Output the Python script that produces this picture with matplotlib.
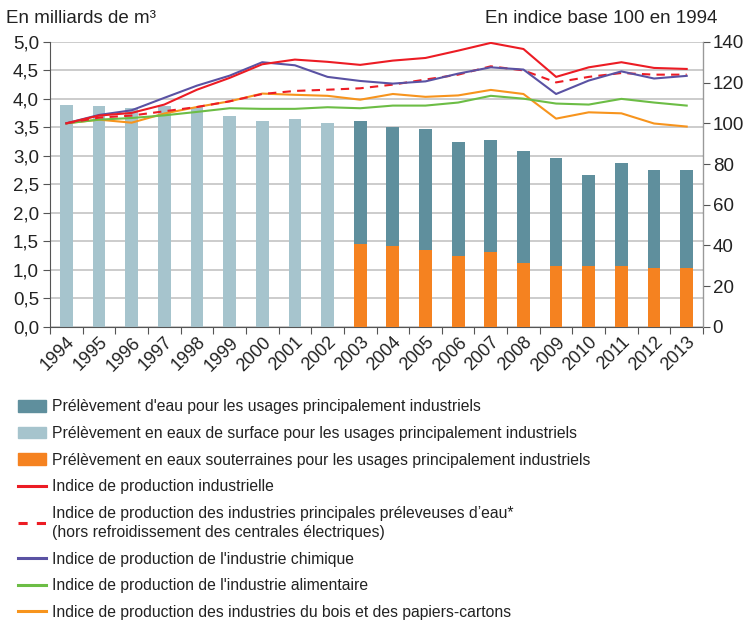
import matplotlib
matplotlib.use("Agg")
import matplotlib.pyplot as plt
from matplotlib.lines import Line2D
from matplotlib.patches import Patch
from matplotlib.ticker import FuncFormatter, MultipleLocator
from matplotlib.transforms import ScaledTranslation

plt.rcParams['font.family'] = ['Liberation Sans', 'DejaVu Sans']

years = list(range(1994, 2014))

# total withdrawal, light bars 1994-2002, dark bars 2003-2013 (milliards de m3)
surface_total = [3.89, 3.88, 3.84, 3.87, 3.85, 3.70, 3.62, 3.64, 3.57]
total = [3.62, 3.50, 3.47, 3.25, 3.27, 3.08, 2.96, 2.66, 2.88, 2.76, 2.76]
ground = [1.45, 1.42, 1.35, 1.25, 1.31, 1.12, 1.06, 1.06, 1.06, 1.03, 1.03]

# production indices, base 100 in 1994
ind_prod = [100, 103.8, 105.1, 109.2, 116.5, 122.3, 129.0, 131.3, 130.2, 128.7,
            130.8, 132.1, 135.7, 139.5, 136.5, 122.8, 127.5, 130.0, 127.2, 126.7]
ind_water = [100, 102.8, 103.8, 105.9, 108.0, 110.8, 114.4, 115.9, 116.5, 117.2,
             119.0, 121.5, 123.9, 128.0, 126.0, 120.1, 122.8, 124.7, 123.9, 123.9]
ind_chem = [100, 104.1, 106.4, 112.5, 118.5, 123.4, 130.0, 128.5, 122.8, 120.8,
            119.5, 120.6, 124.4, 127.5, 126.4, 114.4, 121.0, 125.5, 122.0, 123.3]
ind_food = [100, 101.8, 102.6, 103.9, 105.6, 107.4, 107.1, 107.1, 107.9, 107.4,
            108.7, 108.7, 110.2, 113.5, 112.1, 109.7, 109.2, 112.0, 110.2, 108.7]
ind_wood = [100, 101.8, 100.3, 104.8, 108.0, 110.8, 114.6, 114.0, 113.5, 111.6,
            114.4, 113.0, 113.7, 116.4, 114.4, 102.3, 105.4, 104.9, 99.9, 98.4]

labels = [
    "Prélèvement d'eau pour les usages principalement industriels",
    "Prélèvement en eaux de surface pour les usages principalement industriels",
    "Prélèvement en eaux souterraines pour les usages principalement industriels",
    "Indice de production industrielle",
    "Indice de production des industries principales préleveuses d\u2019eau*\n"
    "(hors refroidissement des centrales électriques)",
    "Indice de production de l'industrie chimique",
    "Indice de production de l'industrie alimentaire",
    "Indice de production des industries du bois et des papiers-cartons",
]

c_dark = '#5f8f9d'
c_light = '#a6c4cd'
c_ground = '#f58220'
c_red = '#ec1c24'
c_blue = '#5a52a3'
c_green = '#6cbd45'
c_orange = '#f7941d'
c_axis = '#555555'
c_text = '#222222'

fig = plt.figure(figsize=(7.43, 6.25), dpi=100)
ax = fig.add_axes([0.0673, 0.477, 0.8789, 0.456])
ax2 = ax.twinx()

x = list(range(len(years)))
n_s = len(surface_total)
w = 0.39
ax.bar(x[:n_s], surface_total, width=w, color=c_light, zorder=2)
ax.bar(x[n_s:], total, width=w, color=c_dark, zorder=2)
ax.bar(x[n_s:], ground, width=w, color=c_ground, zorder=3)

ax.set_xlim(-0.5, len(years) - 0.5)
ax.set_ylim(0, 5)
ax.yaxis.set_major_locator(MultipleLocator(0.5))
ax.yaxis.set_major_formatter(FuncFormatter(lambda v, p: f"{v:.1f}".replace('.', ',')))
ax.grid(axis='y', color='#c8c8c8', lw=1.3, zorder=0)
ax.set_axisbelow(True)

ax.set_xticks([i - 0.5 for i in range(len(years) + 1)])
ax.set_xticklabels([])
ax.set_xticks(x, minor=True)
ax.set_xticklabels([str(y) for y in years], minor=True, rotation=45,
                   ha='right', rotation_mode='anchor', fontsize=13, color=c_text)
shift = ScaledTranslation(-7 / 100, -3 / 100, fig.dpi_scale_trans)
for lab in ax.get_xticklabels(minor=True):
    lab.set_transform(lab.get_transform() + shift)
ax.tick_params(axis='x', which='minor', length=0, pad=5)
ax.tick_params(axis='x', which='major', length=5, color=c_axis)
ax.tick_params(axis='y', labelsize=13.5, labelcolor=c_text, length=5, color=c_axis, pad=3)

ax.spines['top'].set_visible(False)
ax2.spines['top'].set_visible(False)
ax.spines['left'].set_color(c_axis)
ax.spines['bottom'].set_color(c_axis)
ax2.spines['right'].set_color('#999999')
ax2.spines['left'].set_visible(False)
ax2.spines['bottom'].set_visible(False)

ax2.plot(x, ind_wood, color=c_orange, lw=1.5, zorder=4)
ax2.plot(x, ind_food, color=c_green, lw=1.5, zorder=4)
ax2.plot(x, ind_water, color=c_red, lw=1.5, ls=(0, (4, 3)), zorder=4)
ax2.plot(x, ind_chem, color=c_blue, lw=1.5, zorder=5)
ax2.plot(x, ind_prod, color=c_red, lw=1.5, zorder=6)
ax2.set_ylim(0, 140)
ax2.yaxis.set_major_locator(MultipleLocator(20))
ax2.tick_params(axis='y', labelsize=13.5, labelcolor=c_text, length=5, color=c_axis, pad=2)

fig.text(0.008, 0.971, "En milliards de m\u00b3", fontsize=13.5, color=c_text, va='center')
fig.text(0.965, 0.971, "En indice base 100 en 1994", fontsize=13.5, color=c_text,
         va='center', ha='right')

handles = [
    Patch(color=c_dark),
    Patch(color=c_light),
    Patch(color=c_ground),
    Line2D([], [], color=c_red, lw=2.2),
    Line2D([], [], color=c_red, lw=2.2, ls=(0, (3, 3))),
    Line2D([], [], color=c_blue, lw=2.2),
    Line2D([], [], color=c_green, lw=2.2),
    Line2D([], [], color=c_orange, lw=2.2),
]
leg = fig.legend(handles, labels, loc='upper left', bbox_to_anchor=(0.024, 0.361),
                 frameon=False, fontsize=11.3, handlelength=1.8, handleheight=0.75,
                 handletextpad=0.4, labelspacing=0.74, borderaxespad=0, borderpad=0)
for t in leg.get_texts():
    t.set_color(c_text)
    t.set_linespacing(1.36)

fig.savefig("out.png", dpi=100)
